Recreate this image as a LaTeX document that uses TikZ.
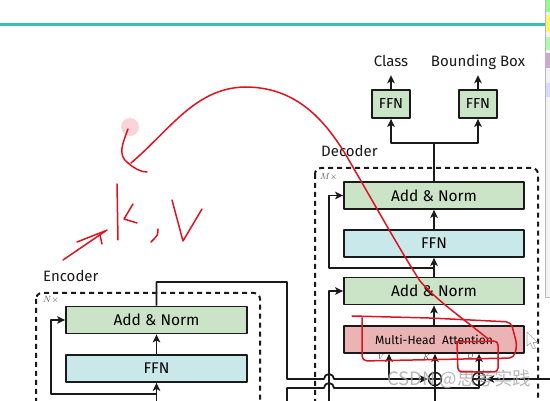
\documentclass[tikz,border=0pt]{standalone}
\usepackage{fontspec}
\setsansfont{Fira Sans}
\newfontfamily\cjkfont{Noto Sans CJK SC}
\usetikzlibrary{arrows.meta,calc}
\definecolor{NormGreen}{HTML}{CBE3C6}
\definecolor{FfnBlue}{HTML}{C8E8EA}
\definecolor{AttnPink}{HTML}{EBB4B4}
\definecolor{Teal}{HTML}{38BDBD}
\definecolor{Ink}{HTML}{1A1A1A}
\definecolor{Pen}{HTML}{DE1320}
\definecolor{Panel}{HTML}{F3F3F3}
\newcommand{\sumnode}[2]{%
  \node[sum] (#1) at (#2) {};
  \draw[Ink,line width=1.3pt] (#1.north) -- (#1.south) (#1.west) -- (#1.east);%
}
\newcommand{\hop}{arc (180:360:5)}

\begin{document}
\begin{tikzpicture}[x=1pt,y=-1pt,line join=round,
    box/.style={draw=Ink,line width=1.8pt,minimum width=180pt,minimum height=27pt,
      inner sep=0pt,font=\sffamily\fontsize{15.5}{18}\selectfont},
    normbox/.style={box,fill=NormGreen},
    ffnbox/.style={box,fill=FfnBlue},
    attnbox/.style={box,fill=AttnPink,font=\sffamily\fontsize{12}{14}\selectfont},
    headbox/.style={box,fill=NormGreen,minimum width=38pt,minimum height=28pt,
      font=\sffamily\fontsize{14.5}{17}\selectfont},
    wire/.style={draw=Ink,line width=1.8pt},
    feed/.style={wire,-{Stealth[length=8pt,width=7.5pt,inset=2pt]}},
    lbl/.style={font=\sffamily\fontsize{15}{18}\selectfont,inner sep=4pt,text depth=4pt,text=Ink},
    tiny/.style={font=\fontsize{7}{8}\selectfont\itshape,text=Ink!85,inner sep=0pt},
    times/.style={font=\fontsize{9}{10}\selectfont,text=Ink!75,inner sep=0pt,anchor=west},
    sum/.style={circle,draw=Ink,line width=1.5pt,fill=white,minimum size=13pt,inner sep=0pt},
    frame/.style={draw=Ink,line width=2pt,dash pattern=on 5pt off 4pt,rounded corners=6pt},
    pen/.style={draw=Pen,line width=1.5pt,line cap=round,line join=round}]
  \useasboundingbox (0,0) rectangle (550,401);
  \clip (0,0) rectangle (550,401);
  \fill[white] (0,0) rectangle (550,401);
  \draw[Teal,line width=3pt] (0,25) -- (545,25);
  \fill[Panel] (545,0) rectangle (550,297);
  \draw[gray!55,line width=0.8pt] (545,0) -- (545,297) -- (550,297);
  \fill[green!45] (546,0) rectangle (550,12);
  \fill[yellow!60] (546,15) rectangle (550,32);
  \fill[green!35] (546,37) rectangle (550,50);
  \fill[violet!35] (546,53) rectangle (550,68);
  \fill[blue!15] (546,83) rectangle (550,97);

  % decoder
  \draw[frame] (315,168) rectangle (538,420);
  \node[times] (mtimes) at (320,177) {$M\times$};
  \node[lbl,anchor=base west,inner sep=0pt] (dec) at (321,157) {Decoder};
  \node[normbox] (an1) at (434,195.5) {Add \& Norm};
  \node[ffnbox] (dffn) at (434,243.5) {FFN};
  \node[normbox] (an2) at (434,291) {Add \& Norm};
  \node[attnbox] (mha) at (434,339.5) {Multi-Head\ \ Attention};
  \node[headbox] (ffncls) at (391,104) {FFN};
  \node[headbox] (ffnbox) at (478,104) {FFN};
  \node[lbl,anchor=base] (cls) at (391,67) {Class};
  \node[lbl,anchor=base] (bbox) at (478,67) {Bounding Box};
  \node[tiny] (vlab) at (380,357) {V};
  \node[tiny] (klab) at (426,357) {K};
  \node[tiny] (qlab) at (470,357) {Q};
  \sumnode{kadd}{435,379}
  \sumnode{qadd}{479,379}

  \coordinate (split) at (434,143);
  \draw[wire] (an1.north) -- (split);
  \draw[feed] (split) -| (ffncls.south);
  \draw[feed] (split) -| (ffnbox.south);
  \draw[feed] (ffncls.north) -- (cls.south);
  \draw[feed] (ffnbox.north) -- (bbox.south);
  \draw[feed] (dffn.north) -- (an1.south);
  \draw[feed] (an2.north) -- (dffn.south);
  \coordinate (res1) at (434,268);
  \draw[feed] (res1) -- (329,268) |- (an1.west);
  \draw[feed] (mha.north) -- (an2.south);
  \draw[feed] (329,410) |- (an2.west);
  \draw[feed] (kadd.north) -- (kadd.north |- mha.south);
  \draw[feed] (qadd.north) -- (qadd.north |- mha.south);
  \draw[feed] (560,379) -- (qadd.east);
  \draw[wire] (kadd.south) -- (435,410);

  % encoder
  \draw[frame] (36,293) rectangle (260,420);
  \node[times] (ntimes) at (43,300) {$N\times$};
  \node[lbl,anchor=base west,inner sep=0pt] (enc) at (43,282) {Encoder};
  \node[normbox,minimum width=181pt] (ean) at (156.5,320) {Add \& Norm};
  \node[ffnbox,minimum width=181pt] (effn) at (156.5,368.5) {FFN};
  \draw[feed] (effn.north) -- (ean.south);
  \draw[feed] (156.5,410) -- (effn.south);
  \coordinate (res2) at (156.5,394);
  \draw[feed] (res2) -- (51,394) |- (ean.west);

  % memory and queries into the cross attention
  \coordinate (vsplit) at (389,379);
  \draw[feed] (ean.north) |- (287,282) -- (287,379) -- (324,379) \hop -- (kadd.west);
  \draw[feed] (vsplit) -- (vsplit |- mha.south);
  \draw[wire] (287,410) -- (287,388) -- (324,388) \hop -- (479,388) -- (qadd.south);

  % cursor and watermark
  \draw[gray!70,fill=white,line width=0.6pt] (527,332) -- (527,346) -- (530.5,343) -- (533,349)
    -- (535.5,348) -- (533,342.5) -- (537.5,342.5) -- cycle;
  \node[text=gray!70,opacity=0.8,font=\cjkfont\fontsize{18.5}{20}\selectfont,anchor=west,inner sep=0pt]
    (mark) at (387,379) {CSDN @思考实践};

  % pen notes
  \fill[Pen!22,opacity=0.8] (130,127) circle (9);
  \draw[pen] (488,339) .. controls (468,322) and (438,302) .. (420,281)
    .. controls (400,250) and (375,205) .. (350,162)
    .. controls (325,118) and (295,87) .. (245,87)
    .. controls (195,88) and (170,130) .. (131,163);
  \draw[pen] (128,129) .. controls (123,143) and (117,155) .. (128,163)
    .. controls (134,168) and (140,172) .. (147,172);
  \draw[pen,rounded corners=5pt] (352,316) -- (430,318) -- (511,322) -- (517,345) -- (514,358)
    -- (362,361) -- (362,318);
  \draw[pen,rounded corners=4pt] (456,342) -- (498,341) -- (498,372) -- (458,372) -- (457,343);
  \draw[pen] (117,184) -- (118,240);
  \draw[pen] (133,204) -- (124,219) -- (137,223);
  \draw[pen] (158,229) .. controls (158,235) .. (151,242);
  \draw[pen] (172,200) -- (183,241) -- (202,209);
  \draw[pen] (63,260) -- (107,230);
  \draw[pen] (77,242) -- (105,231);
  \draw[pen] (100,235) -- (102,244);
\end{tikzpicture}
\end{document}
